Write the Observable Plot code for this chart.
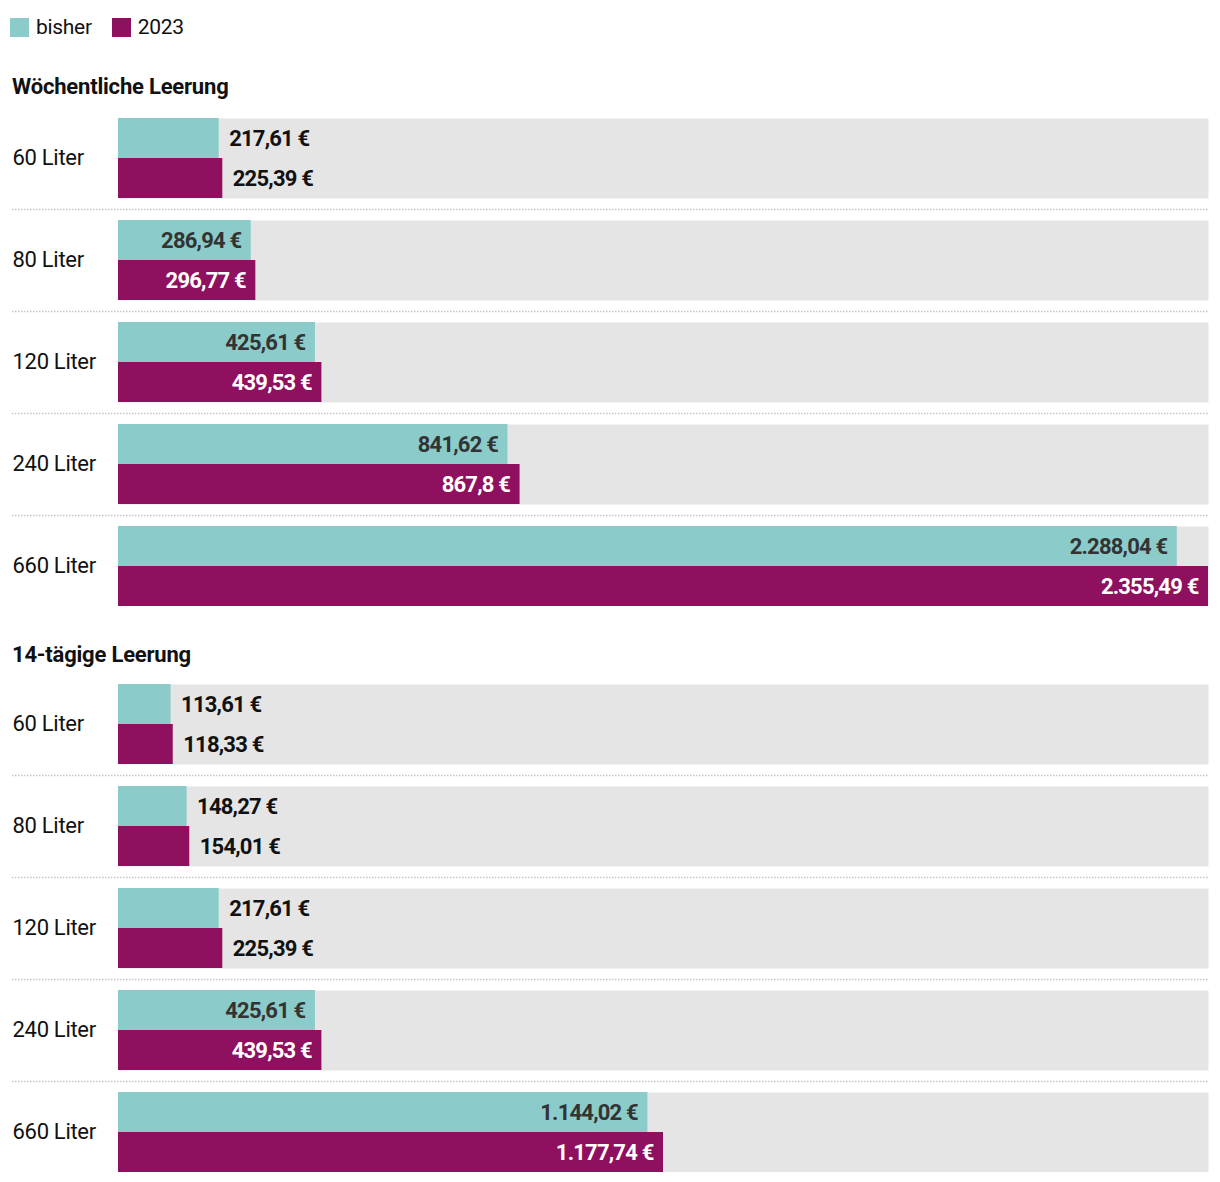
<!DOCTYPE html>
<html>
<head>
<meta charset="utf-8">
<script src="https://cdn.jsdelivr.net/npm/d3@7"></script>
<script src="https://cdn.jsdelivr.net/npm/@observablehq/plot@0.6"></script>
<style>
  body { margin: 0; background: #fff; font-family: Roboto, "Noto Sans", sans-serif; color: #111; }
  .head { position: relative; height: 118px; }
  .legend { position: absolute; left: 10px; top: 16px; display: flex; align-items: center; font-size: 21px; line-height: 22px; letter-spacing: -0.3px; }
  .legend .sw { width: 19px; height: 19px; display: inline-block; margin-right: 7px; }
  .legend .item { display: flex; align-items: center; margin-right: 20px; }
  .title { position: absolute; left: 12px; font-weight: bold; font-size: 22px; line-height: 24px; letter-spacing: -0.2px; }
  .gap { position: relative; height: 78px; }
  svg { display: block; }
  svg .val text { letter-spacing: -0.8px; }
  svg .lab text { letter-spacing: -0.3px; }
</style>
</head>
<body>
<div class="head">
  <div class="legend" id="legend"></div>
  <div class="title" style="top:75px">Wöchentliche Leerung</div>
</div>
<div id="c1"></div>
<div class="gap"><div class="title" style="top:37px">14-tägige Leerung</div></div>
<div id="c2"></div>
<script>
const sizes = ["60 Liter", "80 Liter", "120 Liter", "240 Liter", "660 Liter"];
const seriesNames = ["bisher", "2023"];
const seriesColors = ["#8bcccb", "#8e105e"];
const weeklyBisher = [217.61, 286.94, 425.61, 841.62, 2288.04];
const weekly2023 = [225.39, 296.77, 439.53, 867.8, 2355.49];
const biweeklyBisher = [113.61, 148.27, 217.61, 425.61, 1144.02];
const biweekly2023 = [118.33, 154.01, 225.39, 439.53, 1177.74];

const maxValue = d3.max([...weeklyBisher, ...weekly2023, ...biweeklyBisher, ...biweekly2023]);
const de = d3.formatLocale({decimal: ",", thousands: ".", grouping: [3], currency: ["", " €"]});
const fmt = v => de.format(",")(v) + " €";
const insideThreshold = 250;

// legend
const leg = document.getElementById("legend");
seriesNames.forEach((s, i) => {
  const it = document.createElement("span");
  it.className = "item";
  it.innerHTML = `<span class="sw" style="background:${seriesColors[i]}"></span><span>${s}</span>`;
  leg.appendChild(it);
});

function makeChart(bisher, neu) {
  const data = sizes.flatMap((s, i) => [
    {size: s, series: "bisher", value: bisher[i]},
    {size: s, series: "2023", value: neu[i]}
  ]);
  const textBase = {fy: "size", y: "series", x: "value", text: d => fmt(d.value), fontWeight: "bold", fontSize: 22, className: "val"};
  return Plot.plot({
    width: 1220,
    height: 488,
    marginLeft: 118,
    marginRight: 12,
    marginTop: 0,
    marginBottom: 0,
    style: {fontFamily: "Roboto, 'Noto Sans', sans-serif", background: "transparent"},
    x: {domain: [0, maxValue], axis: null},
    y: {domain: seriesNames, axis: null, padding: 0},
    fy: {domain: sizes, axis: null, paddingInner: 22 / 102, paddingOuter: 0},
    color: {domain: seriesNames, range: seriesColors},
    marks: [
      Plot.frame({fill: "#e5e5e5", stroke: null}),
      Plot.barX(data, {fy: "size", y: "series", x: "value", fill: "series"}),
      Plot.text(data.filter(d => d.value >= insideThreshold && d.series === "bisher"),
        {...textBase, textAnchor: "end", dx: -10, fill: "#333"}),
      Plot.text(data.filter(d => d.value >= insideThreshold && d.series === "2023"),
        {...textBase, textAnchor: "end", dx: -10, fill: "#fff"}),
      Plot.text(data.filter(d => d.value < insideThreshold),
        {...textBase, textAnchor: "start", dx: 10, fill: "#111"}),
      Plot.text(sizes, {fy: d => d, text: d => d, frameAnchor: "left", textAnchor: "start", dx: -106, dy: -1, fontSize: 22, fill: "#111", className: "lab"}),
      Plot.ruleY(sizes.slice(0, -1), {fy: d => d, y: () => "2023", dy: 31, insetLeft: -106, stroke: "#c4c4c4", strokeWidth: 1.5, strokeDasharray: "1.5,1.5"})
    ]
  });
}

document.getElementById("c1").appendChild(makeChart(weeklyBisher, weekly2023));
document.getElementById("c2").appendChild(makeChart(biweeklyBisher, biweekly2023));
</script>
</body>
</html>
